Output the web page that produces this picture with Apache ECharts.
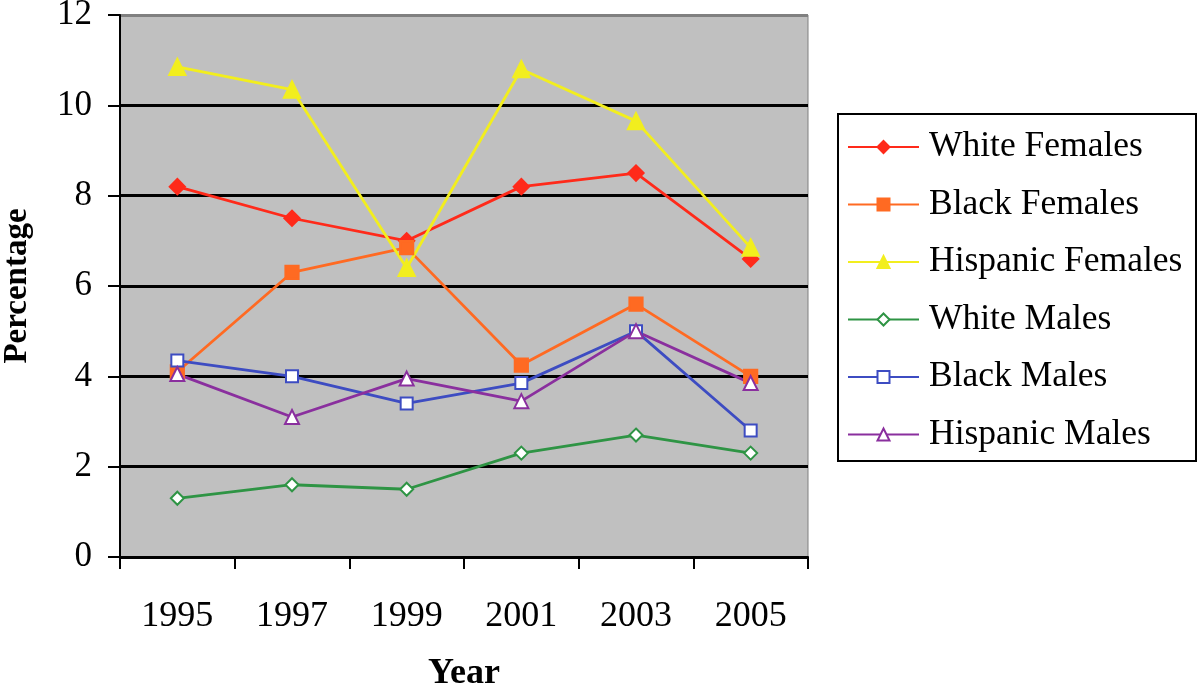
<!DOCTYPE html>
<html>
<head>
<meta charset="utf-8">
<script src="https://cdn.jsdelivr.net/npm/echarts@6/dist/echarts.min.js"></script>
<style>
html,body{margin:0;padding:0;background:#fff;}
#chart{width:1200px;height:691px;}
</style>
</head>
<body>
<div id="chart"></div>
<script>
var years = ['1995', '1997', '1999', '2001', '2003', '2005'];
var whiteFemales = [8.2, 7.5, 7.0, 8.2, 8.5, 6.6];
var blackFemales = [4.1, 6.3, 6.85, 4.25, 5.6, 4.0];
var hispanicFemales = [10.85, 10.35, 6.4, 10.8, 9.65, 6.85];
var whiteMales = [1.3, 1.6, 1.5, 2.3, 2.7, 2.3];
var blackMales = [4.35, 4.0, 3.4, 3.85, 5.0, 2.8];
var hispanicMales = [4.05, 3.1, 3.95, 3.45, 5.0, 3.85];
var yTicks = [0, 2, 4, 6, 8, 10, 12];

var serif = '"Liberation Serif", "Times New Roman", "DejaVu Serif", serif';

function mk(name, data, color, symbol, size) {
  return {
    name: name, type: 'line', data: data,
    symbol: symbol, symbolSize: size,
    lineStyle: { color: color, width: 2.8 },
    itemStyle: { color: color, borderColor: color, borderWidth: 2.2 },
    emphasis: { disabled: true },
    animation: false
  };
}

var chart = echarts.init(document.getElementById('chart'));
chart.setOption({
  backgroundColor: '#fff',
  animation: false,
  grid: {
    left: 120, right: 392, top: 15, bottom: 134,
    containLabel: false, outerBoundsMode: 'none',
    show: true, backgroundColor: '#c0c0c0', borderColor: '#808080', borderWidth: 1
  },
  graphic: [{
    type: 'rect', left: 837, top: 113,
    shape: { width: 358, height: 347 },
    style: { fill: '#fff', stroke: '#000', lineWidth: 2 },
    z: 0
  }],
  legend: {
    orient: 'vertical', left: 847, top: 127,
    itemWidth: 71, itemHeight: 15, itemGap: 17.5,
    padding: 0,
    textStyle: { fontFamily: serif, fontSize: 35.5, lineHeight: 40, color: '#000', padding: [0, 0, 0, 5] },
    data: ['White Females', 'Black Females', 'Hispanic Females', 'White Males', 'Black Males', 'Hispanic Males'],
    z: 5
  },
  xAxis: {
    type: 'category', data: years, boundaryGap: true,
    name: 'Year', nameLocation: 'middle', nameGap: 97,
    nameTextStyle: { fontFamily: serif, fontSize: 36, fontWeight: 'bold', color: '#000', lineHeight: 40 },
    axisLine: { lineStyle: { color: '#000', width: 2 } },
    axisTick: { show: true, inside: false, length: 12, lineStyle: { color: '#000', width: 2 } },
    axisLabel: { fontFamily: serif, fontSize: 36, color: '#000', margin: 40, lineHeight: 40 },
    splitLine: { show: false }
  },
  yAxis: {
    type: 'value', min: 0, max: 12, interval: 2,
    name: 'Percentage', nameLocation: 'middle', nameGap: 86, nameRotate: 90,
    nameTextStyle: { fontFamily: serif, fontSize: 33, fontWeight: 'bold', color: '#000' },
    axisLine: { show: true, lineStyle: { color: '#000', width: 2 } },
    axisTick: { show: true, inside: false, length: 12, lineStyle: { color: '#000', width: 2 } },
    axisLabel: { fontFamily: serif, fontSize: 35, color: '#000', margin: 28,
      formatter: function (v) { return yTicks.indexOf(v) >= 0 ? String(v) : ''; } },
    splitLine: { show: true, lineStyle: { color: ['#000', '#000', '#000', '#000', '#000', '#000', '#808080'], width: 3 } }
  },
  series: [
    mk('White Females', whiteFemales, '#ff2a1a', 'diamond', 15),
    mk('Black Females', blackFemales, '#ff6a22', 'rect', 13),
    mk('Hispanic Females', hispanicFemales, '#f2ee1e', 'triangle', 16),
    mk('White Males', whiteMales, '#2e9444', 'emptyDiamond', 13),
    mk('Black Males', blackMales, '#3d4cc2', 'emptyRect', 12),
    mk('Hispanic Males', hispanicMales, '#8a2f9e', 'emptyTriangle', 14)
  ]
});
</script>
</body>
</html>
